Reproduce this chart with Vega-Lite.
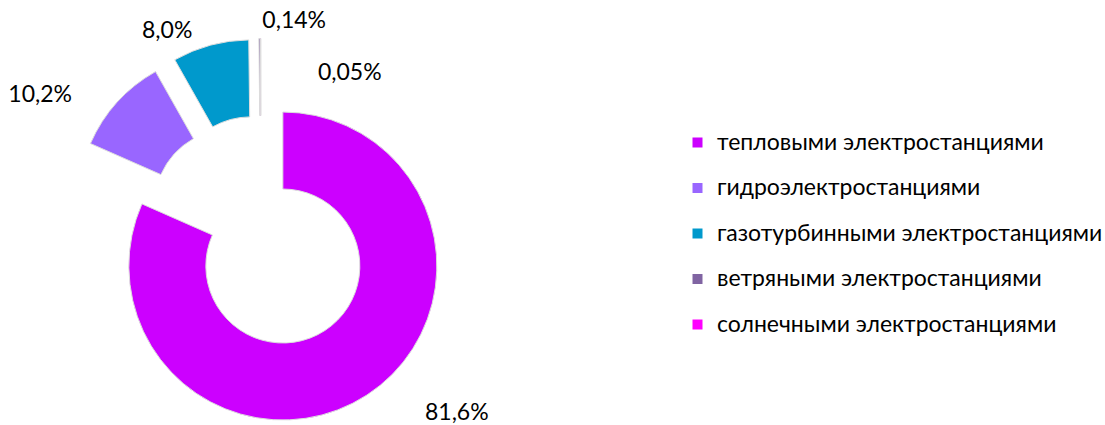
{
  "$schema": "https://vega.github.io/schema/vega-lite/v6.json",
  "width": 522,
  "height": 385,
  "autosize": {"type": "none"},
  "padding": {"left": 0, "top": 40, "right": 583, "bottom": 0},
  "background": "white",
  "config": {"view": {"stroke": null}},
  "data": {
    "values": [
      {"n": 1, "category": "тепловыми электростанциями", "value": 81.6, "label": "81,6%"},
      {"n": 2, "category": "гидроэлектростанциями", "value": 10.2, "label": "10,2%"},
      {"n": 3, "category": "газотурбинными электростанциями", "value": 8.0, "label": "8,0%"},
      {"n": 4, "category": "ветряными электростанциями", "value": 0.14, "label": "0,14%"},
      {"n": 5, "category": "солнечными электростанциями", "value": 0.05, "label": "0,05%"}
    ]
  },
  "encoding": {
    "theta": {"field": "value", "type": "quantitative", "stack": true},
    "order": {"field": "n", "type": "quantitative"}
  },
  "layer": [
    {
      "mark": {
        "type": "arc",
        "innerRadius": 77,
        "outerRadius": 154,
        "stroke": "#dddddd",
        "strokeWidth": 1,
        "xOffset": {"expr": "40*sin(PI*(datum.value_start+datum.value_end)/99.99)"},
        "yOffset": {"expr": "-40*cos(PI*(datum.value_start+datum.value_end)/99.99)"}
      },
      "encoding": {
        "color": {
          "field": "category",
          "type": "nominal",
          "sort": null,
          "scale": {
            "domain": ["тепловыми электростанциями", "гидроэлектростанциями", "газотурбинными электростанциями", "ветряными электростанциями", "солнечными электростанциями"],
            "range": ["#cc00ff", "#9966ff", "#0099cc", "#8064a2", "#ff00ff"]
          },
          "legend": {
            "title": null,
            "orient": "none",
            "legendX": 686,
            "legendY": 91,
            "symbolType": "square",
            "symbolSize": 100,
            "symbolStrokeWidth": 0,
            "labelFont": "Lato",
            "labelFontSize": 23,
            "labelColor": "#000000",
            "labelOffset": 8,
            "labelLimit": 500,
            "rowPadding": 21.5
          }
        }
      }
    },
    {
      "mark": {
        "type": "text",
        "font": "Lato",
        "fontSize": 23,
        "color": "#000000",
        "align": "center",
        "baseline": "middle",
        "radius": {"expr": "datum.value > 50 ? 228 : datum.value > 9 ? 221 : datum.value > 1 ? 183 : datum.value > 0.1 ? 175 : 149"},
        "thetaOffset": {"expr": "datum.value > 50 ? -0.29 : datum.value > 1 ? -0.21 : datum.value > 0.1 ? 0.2 : 0.64"},
        "xOffset": {"expr": "40*sin(PI*(datum.value_start+datum.value_end)/99.99)"},
        "yOffset": {"expr": "-40*cos(PI*(datum.value_start+datum.value_end)/99.99)"}
      },
      "encoding": {
        "text": {"field": "label", "type": "nominal"}
      }
    }
  ]
}
